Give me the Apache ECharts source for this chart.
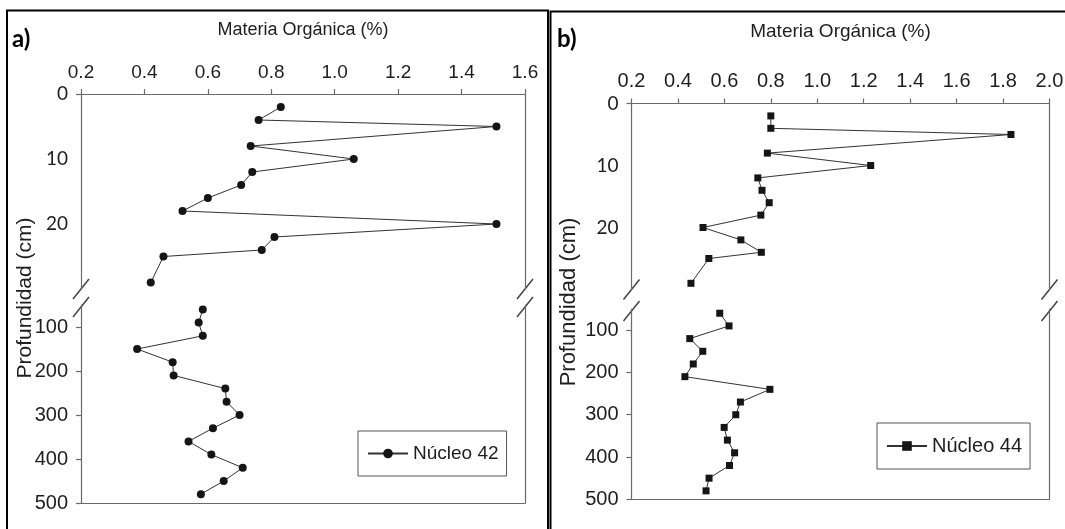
<!DOCTYPE html>
<html><head><meta charset="utf-8">
<script src="https://cdn.jsdelivr.net/npm/echarts@6/dist/echarts.min.js"></script>
<style>html,body{margin:0;padding:0;background:#fff}#c{width:1065px;height:529px}</style>
</head><body><div id="c"></div>
<script>
// ---------- data ----------
const depthTop = [2, 4, 5, 8, 10, 12, 14, 16, 18, 20, 22, 24, 25, 29];
const depthBottom = [60, 90, 120, 150, 180, 210, 240, 270, 300, 330, 360, 390, 420, 450, 480];
const nucleo42Top = [0.83, 0.76, 1.51, 0.735, 1.06, 0.74, 0.705, 0.60, 0.52, 1.51, 0.81, 0.77, 0.46, 0.42];
const nucleo42Bottom = [0.584, 0.571, 0.584, 0.377, 0.489, 0.492, 0.655, 0.659, 0.70, 0.616, 0.539, 0.611, 0.71, 0.65, 0.578];
const nucleo44Top = [0.80, 0.80, 1.834, 0.785, 1.23, 0.744, 0.762, 0.793, 0.757, 0.508, 0.671, 0.759, 0.533, 0.456];
const nucleo44Bottom = [0.58, 0.62, 0.451, 0.507, 0.466, 0.43, 0.796, 0.669, 0.649, 0.599, 0.613, 0.644, 0.622, 0.534, 0.521];
const topDepthLabels = [0, 10, 20];
const bottomDepthLabels = [100, 200, 300, 400, 500];
const xTickStep = 0.2;
const xRangeA = [0.2, 1.6];
const xRangeB = [0.2, 2.0];
const xTitle = 'Materia Orgánica (%)';
const yTitle = 'Profundidad (cm)';
const seriesNames = ['Núcleo 42', 'Núcleo 44'];
const panelTags = ['a)', 'b)'];

// ---------- layout ----------
const ARIAL = "'Liberation Sans',Arial,sans-serif";
const CAL = "Lato,'Open Sans',sans-serif";
const AX = '#6a6a6a';
const TXT = '#1e1e1e';

const panels = [
  { left: 81, right: 525, upTop: 94, upBottom: 289, upMax: 30, loTop: 305, loBottom: 503, loMin: 50, loMax: 500,
    xr: xRangeA, fs: 19, tfs: 18, yfs: 20, lfs: 19, titleY: 30, tagX: 12, tagY: 39, yTitleX: 25, yTitleY: 298, yTitleFs: 21,
    name: seriesNames[0], top: nucleo42Top, bottom: nucleo42Bottom, symbol: 'circle', symbolSize: 8,
    legend: { left: 358, top: 431 } },
  { left: 631.5, right: 1049.5, upTop: 103.5, upBottom: 289.5, upMax: 30, loTop: 309, loBottom: 499.3, loMin: 50, loMax: 500,
    xr: xRangeB, fs: 20, tfs: 19, yfs: 20, lfs: 20, titleY: 32, tagX: 557, tagY: 39, yTitleX: 569, yTitleY: 302, yTitleFs: 22,
    name: seriesNames[1], top: nucleo44Top, bottom: nucleo44Bottom, symbol: 'rect', symbolSize: 7,
    legend: { left: 877, top: 423 } }
];

const zip = (xs, ys) => xs.map((v, i) => [v, ys[i]]);
const grid = [], xAxis = [], yAxis = [], series = [], legend = [], graphic = [];

panels.forEach((p, k) => {
  const w = p.right - p.left;
  const gUp = grid.length;
  grid.push({ left: p.left, top: p.upTop, width: w, height: p.upBottom - p.upTop, outerBoundsMode: 'none' });
  const gLo = grid.length;
  grid.push({ left: p.left, top: p.loTop, width: w, height: p.loBottom - p.loTop, outerBoundsMode: 'none' });

  const lineStyle = { color: AX, width: 1.2 };
  const xUp = xAxis.length;
  xAxis.push({ type: 'value', gridIndex: gUp, position: 'top', min: p.xr[0], max: p.xr[1], interval: xTickStep,
    axisLine: { show: true, lineStyle }, axisTick: { show: true, inside: false, length: 5, lineStyle },
    splitLine: { show: false },
    axisLabel: { show: true, margin: 12, fontFamily: ARIAL, fontSize: p.fs, color: TXT, formatter: v => v.toFixed(1) } });
  const xLo = xAxis.length;
  xAxis.push({ type: 'value', gridIndex: gLo, position: 'bottom', min: p.xr[0], max: p.xr[1], interval: xTickStep,
    axisLine: { show: true, lineStyle }, axisTick: { show: false }, axisLabel: { show: false }, splitLine: { show: false } });

  const yUp = yAxis.length;
  yAxis.push({ type: 'value', gridIndex: gUp, inverse: true, min: 0, max: p.upMax,
    axisLine: { show: true, lineStyle }, splitLine: { show: false },
    axisTick: { show: true, length: 5, lineStyle, customValues: [topDepthLabels[0]] },
    axisLabel: { show: true, margin: 13, fontFamily: CAL, fontSize: 19, color: TXT, customValues: topDepthLabels } });
  yAxis.push({ type: 'value', gridIndex: gUp, inverse: true, position: 'right', min: 0, max: p.upMax,
    axisLine: { show: true, lineStyle }, axisTick: { show: false }, axisLabel: { show: false }, splitLine: { show: false } });
  const yLo = yAxis.length;
  yAxis.push({ type: 'value', gridIndex: gLo, inverse: true, min: p.loMin, max: p.loMax,
    axisLine: { show: true, lineStyle }, splitLine: { show: false },
    axisTick: { show: true, length: 5, lineStyle, customValues: bottomDepthLabels },
    axisLabel: { show: true, margin: 13, fontFamily: ARIAL, fontSize: p.yfs, color: TXT, customValues: bottomDepthLabels } });
  yAxis.push({ type: 'value', gridIndex: gLo, inverse: true, position: 'right', min: p.loMin, max: p.loMax,
    axisLine: { show: true, lineStyle }, axisTick: { show: false }, axisLabel: { show: false }, splitLine: { show: false } });

  const common = { type: 'line', name: p.name, symbol: p.symbol, symbolSize: p.symbolSize, showSymbol: true,
    lineStyle: { color: '#333', width: 1 }, itemStyle: { color: '#151515' }, emphasis: { disabled: true } };
  series.push(Object.assign({}, common, { xAxisIndex: xUp, yAxisIndex: yUp, data: zip(p.top, depthTop) }));
  series.push(Object.assign({}, common, { xAxisIndex: xLo, yAxisIndex: yLo, data: zip(p.bottom, depthBottom) }));

  legend.push({ data: [p.name], left: p.legend.left, top: p.legend.top, orient: 'horizontal',
    backgroundColor: '#fff', borderColor: '#555', borderWidth: 1, borderRadius: 0,
    padding: [13, 8, 13, 9], itemWidth: 40, itemHeight: 12, selectedMode: false,
    textStyle: { fontFamily: ARIAL, fontSize: p.lfs, color: TXT } });

  graphic.push({ type: 'text', x: (p.left + p.right) / 2, y: p.titleY,
    style: { text: xTitle, fontFamily: ARIAL, fontSize: p.tfs, fill: TXT, align: 'center', verticalAlign: 'middle' } });
  graphic.push({ type: 'text', x: p.tagX, y: p.tagY,
    style: { text: panelTags[k], fontFamily: CAL, fontWeight: 'bold', fontSize: 24, fill: '#000', align: 'left', verticalAlign: 'middle' } });
  graphic.push({ type: 'text', x: p.yTitleX, y: p.yTitleY, rotation: Math.PI / 2,
    style: { text: yTitle, fontFamily: ARIAL, fontSize: p.yTitleFs, fill: TXT, align: 'center', verticalAlign: 'middle' } });

  [p.left, p.right].forEach(x => {
    [p.upBottom, p.loTop + 2].forEach(yc => {
      graphic.push({ type: 'line', shape: { x1: x - 8, y1: yc + 10, x2: x + 8, y2: yc - 10 },
        style: { stroke: '#444', lineWidth: 1.5 } });
    });
  });
});

graphic.push({ type: 'rect', shape: { x: 7, y: 10.5, width: 541, height: 600 }, style: { fill: 'none', stroke: '#000', lineWidth: 2 } });
graphic.push({ type: 'rect', shape: { x: 550.5, y: 11.5, width: 600, height: 600 }, style: { fill: 'none', stroke: '#000', lineWidth: 2 } });

const chart = echarts.init(document.getElementById('c'), null, { renderer: 'canvas' });
chart.setOption({ animation: false, backgroundColor: '#fff', grid, xAxis, yAxis, series, legend, graphic });
</script></body></html>
